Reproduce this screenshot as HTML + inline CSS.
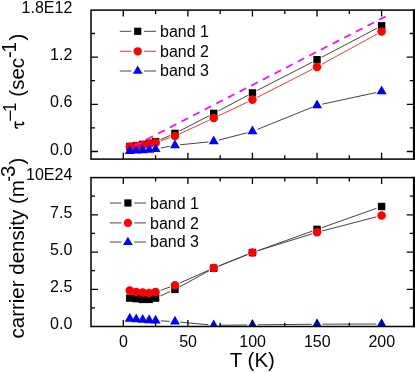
<!DOCTYPE html>
<html><head><meta charset="utf-8"><title>chart</title><style>html,body{margin:0;padding:0;background:#fff;}body{width:415px;height:373px;overflow:hidden;font-family:"Liberation Sans",sans-serif;}</style></head><body>
<svg width="415" height="373" viewBox="0 0 415 373" style="display:block" font-family="Liberation Sans, sans-serif" fill="#000">
<rect x="0" y="0" width="415" height="373" fill="#fff"/>
<defs><clipPath id="c1"><rect x="91" y="10.1" width="322.8" height="149"/></clipPath><clipPath id="c2"><rect x="91" y="177.6" width="322.8" height="148.9"/></clipPath></defs>
<g clip-path="url(#c1)">
<path d="M160.46 139.61L170.09 135.49M179.67 130.97L209.00 115.83M218.39 110.92L247.77 95.38M257.16 90.48L312.31 62.12M321.72 57.24L376.91 28.26" stroke="#444" stroke-width="1" fill="none"/>
<rect x="126.06" y="142.80" width="7.4" height="7.4" fill="#000"/>
<rect x="132.52" y="141.90" width="7.4" height="7.4" fill="#000"/>
<rect x="138.97" y="140.70" width="7.4" height="7.4" fill="#000"/>
<rect x="145.43" y="139.50" width="7.4" height="7.4" fill="#000"/>
<rect x="151.89" y="138.00" width="7.4" height="7.4" fill="#000"/>
<rect x="171.26" y="129.70" width="7.4" height="7.4" fill="#000"/>
<rect x="210.00" y="109.70" width="7.4" height="7.4" fill="#000"/>
<rect x="248.75" y="89.20" width="7.4" height="7.4" fill="#000"/>
<rect x="313.33" y="56.00" width="7.4" height="7.4" fill="#000"/>
<rect x="377.90" y="22.10" width="7.4" height="7.4" fill="#000"/>
<path d="M160.62 140.74L169.93 137.66M179.77 133.78L208.89 120.32M218.50 115.84L247.66 102.06M257.17 97.39L312.30 69.31M321.68 64.36L376.95 34.14" stroke="#f33" stroke-width="1" fill="none"/>
<circle cx="129.76" cy="146.80" r="4.25" fill="#f00"/>
<circle cx="136.22" cy="146.00" r="4.25" fill="#f00"/>
<circle cx="142.67" cy="145.00" r="4.25" fill="#f00"/>
<circle cx="149.13" cy="144.00" r="4.25" fill="#f00"/>
<circle cx="155.59" cy="142.40" r="4.25" fill="#f00"/>
<circle cx="174.96" cy="136.00" r="4.25" fill="#f00"/>
<circle cx="213.70" cy="118.10" r="4.25" fill="#f00"/>
<circle cx="252.45" cy="99.80" r="4.25" fill="#f00"/>
<circle cx="317.03" cy="66.90" r="4.25" fill="#f00"/>
<circle cx="381.60" cy="31.60" r="4.25" fill="#f00"/>
<path d="M160.79 148.01L169.75 146.29M180.23 144.77L208.43 141.93M218.84 140.08L247.32 132.72M257.36 129.41L312.11 107.29M322.21 104.18L376.42 92.52" stroke="#444" stroke-width="1" fill="none"/>
<path d="M129.76 145.13L134.76 153.93L124.76 153.93Z" fill="#00f"/>
<path d="M136.22 144.73L141.22 153.53L131.22 153.53Z" fill="#00f"/>
<path d="M142.67 144.33L147.67 153.13L137.67 153.13Z" fill="#00f"/>
<path d="M149.13 143.83L154.13 152.63L144.13 152.63Z" fill="#00f"/>
<path d="M155.59 143.13L160.59 151.93L150.59 151.93Z" fill="#00f"/>
<path d="M174.96 139.43L179.96 148.23L169.96 148.23Z" fill="#00f"/>
<path d="M213.70 135.53L218.70 144.33L208.70 144.33Z" fill="#00f"/>
<path d="M252.45 125.53L257.45 134.33L247.45 134.33Z" fill="#00f"/>
<path d="M317.03 99.43L322.03 108.23L312.03 108.23Z" fill="#00f"/>
<path d="M381.60 85.53L386.60 94.33L376.60 94.33Z" fill="#00f"/>
</g>
<path d="M129.80 148.16L386.00 16.24" stroke="#f0f" stroke-width="1.7" stroke-dasharray="7.3 5.78" stroke-dashoffset="7.3" fill="none"/>
<g clip-path="url(#c2)">
<path d="M160.42 295.93L170.13 291.57M179.61 286.86L209.06 270.74M218.62 266.22L247.53 254.58M257.44 250.81L312.04 231.19M322.02 227.63L376.60 208.27" stroke="#444" stroke-width="1" fill="none"/>
<rect x="126.06" y="294.40" width="7.4" height="7.4" fill="#000"/>
<rect x="132.52" y="295.00" width="7.4" height="7.4" fill="#000"/>
<rect x="138.97" y="295.70" width="7.4" height="7.4" fill="#000"/>
<rect x="145.43" y="295.70" width="7.4" height="7.4" fill="#000"/>
<rect x="151.89" y="294.40" width="7.4" height="7.4" fill="#000"/>
<rect x="171.26" y="285.70" width="7.4" height="7.4" fill="#000"/>
<rect x="210.00" y="264.50" width="7.4" height="7.4" fill="#000"/>
<rect x="248.75" y="248.90" width="7.4" height="7.4" fill="#000"/>
<rect x="313.33" y="225.70" width="7.4" height="7.4" fill="#000"/>
<rect x="377.90" y="202.80" width="7.4" height="7.4" fill="#000"/>
<path d="M160.58 290.32L169.97 286.98M179.80 283.05L208.86 270.15M218.62 266.02L247.53 254.38M257.51 250.82L311.96 233.88M322.15 230.97L376.47 216.83" stroke="#444" stroke-width="1" fill="none"/>
<circle cx="129.76" cy="290.60" r="4.25" fill="#f00"/>
<circle cx="136.22" cy="291.90" r="4.25" fill="#f00"/>
<circle cx="142.67" cy="292.50" r="4.25" fill="#f00"/>
<circle cx="149.13" cy="292.90" r="4.25" fill="#f00"/>
<circle cx="155.59" cy="292.10" r="4.25" fill="#f00"/>
<circle cx="174.96" cy="285.20" r="4.25" fill="#f00"/>
<circle cx="213.70" cy="268.00" r="4.25" fill="#f00"/>
<circle cx="252.45" cy="252.40" r="4.25" fill="#f00"/>
<circle cx="317.03" cy="232.30" r="4.25" fill="#f00"/>
<circle cx="381.60" cy="215.50" r="4.25" fill="#f00"/>
<path d="M160.88 320.87L169.67 321.33M180.24 322.10L208.43 324.80M219.00 325.25L247.15 324.95M257.75 324.84L311.73 324.26M322.32 324.18L376.30 324.02" stroke="#444" stroke-width="1" fill="none"/>
<path d="M129.76 312.83L134.76 321.63L124.76 321.63Z" fill="#00f"/>
<path d="M136.22 313.43L141.22 322.23L131.22 322.23Z" fill="#00f"/>
<path d="M142.67 313.93L147.67 322.73L137.67 322.73Z" fill="#00f"/>
<path d="M149.13 314.33L154.13 323.13L144.13 323.13Z" fill="#00f"/>
<path d="M155.59 314.73L160.59 323.53L150.59 323.53Z" fill="#00f"/>
<path d="M174.96 315.73L179.96 324.53L169.96 324.53Z" fill="#00f"/>
<path d="M213.70 319.43L218.70 328.23L208.70 328.23Z" fill="#00f"/>
<path d="M252.45 319.03L257.45 327.83L247.45 327.83Z" fill="#00f"/>
<path d="M317.03 318.33L322.03 327.13L312.03 327.13Z" fill="#00f"/>
<path d="M381.60 318.13L386.60 326.93L376.60 326.93Z" fill="#00f"/>
</g>
<rect x="91" y="10.1" width="322.8" height="149" fill="none" stroke="#000" stroke-width="1.5"/>
<rect x="91" y="177.6" width="322.8" height="148.9" fill="none" stroke="#000" stroke-width="1.5"/>
<rect x="412.9" y="9.35" width="2.1" height="150.5" fill="#000"/>
<rect x="412.9" y="176.85" width="2.1" height="150.4" fill="#000"/>
<path d="M123.30 10.10v6.40M123.30 159.10v-6.40M155.59 10.10v3.80M155.59 159.10v-3.80M187.88 10.10v6.40M187.88 159.10v-6.40M220.16 10.10v3.80M220.16 159.10v-3.80M252.45 10.10v6.40M252.45 159.10v-6.40M284.74 10.10v3.80M284.74 159.10v-3.80M317.03 10.10v6.40M317.03 159.10v-6.40M349.31 10.10v3.80M349.31 159.10v-3.80M381.60 10.10v6.40M381.60 159.10v-6.40M123.30 177.60v6.40M123.30 326.50v-6.40M155.59 177.60v3.80M155.59 326.50v-3.80M187.88 177.60v6.40M187.88 326.50v-6.40M220.16 177.60v3.80M220.16 326.50v-3.80M252.45 177.60v6.40M252.45 326.50v-6.40M284.74 177.60v3.80M284.74 326.50v-3.80M317.03 177.60v6.40M317.03 326.50v-6.40M349.31 177.60v3.80M349.31 326.50v-3.80M381.60 177.60v6.40M381.60 326.50v-6.40M91.00 151.50h7.00M413.80 151.50h-7.00M91.00 104.30h7.00M413.80 104.30h-7.00M91.00 57.10h7.00M413.80 57.10h-7.00M91.00 127.90h4.00M413.80 127.90h-4.00M91.00 80.70h4.00M413.80 80.70h-4.00M91.00 33.50h4.00M413.80 33.50h-4.00M91.00 289.30h7.00M413.80 289.30h-7.00M91.00 252.05h7.00M413.80 252.05h-7.00M91.00 214.80h7.00M413.80 214.80h-7.00M91.00 307.90h4.00M413.80 307.90h-4.00M91.00 270.70h4.00M413.80 270.70h-4.00M91.00 233.40h4.00M413.80 233.40h-4.00M91.00 196.20h4.00M413.80 196.20h-4.00" stroke="#000" stroke-width="1.3" fill="none"/>
<g opacity="0.996">
<text transform="translate(72.30 13.20)" font-size="16" text-anchor="end">1.8E12</text>
<text transform="translate(72.30 60.20)" font-size="16" text-anchor="end">1.2</text>
<text transform="translate(72.30 107.40)" font-size="16" text-anchor="end">0.6</text>
<text transform="translate(72.30 154.60)" font-size="16" text-anchor="end">0.0</text>
<text transform="translate(72.30 180.10)" font-size="16" text-anchor="end">10E24</text>
<text transform="translate(72.30 218.10)" font-size="16" text-anchor="end">7.5</text>
<text transform="translate(72.30 255.20)" font-size="16" text-anchor="end">5.0</text>
<text transform="translate(72.30 292.30)" font-size="16" text-anchor="end">2.5</text>
<text transform="translate(72.30 329.40)" font-size="16" text-anchor="end">0.0</text>
<text transform="translate(123.50 347.20)" font-size="16" text-anchor="middle">0</text>
<text transform="translate(188.07 347.20)" font-size="16" text-anchor="middle">50</text>
<text transform="translate(252.65 347.20)" font-size="16" text-anchor="middle">100</text>
<text transform="translate(317.23 347.20)" font-size="16" text-anchor="middle">150</text>
<text transform="translate(381.80 347.20)" font-size="16" text-anchor="middle">200</text>
<text transform="translate(252.30 367.30)" font-size="20.5" text-anchor="middle">T (K)</text>
<text transform="translate(23.50 338.50) rotate(-90)" font-size="20.5">carrier density (m</text>
<text transform="translate(15.20 181.40) rotate(-90) scale(0.8 1)" font-size="20.5">-</text>
<text transform="translate(15.20 176.90) rotate(-90)" font-size="20.5">3</text>
<text transform="translate(23.50 164.60) rotate(-90)" font-size="20.5">)</text>
<path transform="translate(24.30 128.8) rotate(-90)" d="M0.8,-6.3C0.6,-8.0 1.0,-8.9 2.4,-8.9L7.5,-8.9M4.2,-8.9L4.2,-2.8C4.2,-0.3 5.6,0.2 7.0,-1.9" fill="none" stroke="#000" stroke-width="1.5"/>
<text transform="translate(16.40 121.80) rotate(-90) scale(1.2 1)" font-size="17.5">−</text>
<text transform="translate(15.80 111.70) rotate(-90) scale(0.92 1)" font-size="17.5">1</text>
<text transform="translate(24.30 96.70) rotate(-90)" font-size="20.5">(sec</text>
<text transform="translate(16.00 58.00) rotate(-90)" font-size="20.5">-</text>
<text transform="translate(16.00 52.60) rotate(-90) scale(0.92 1)" font-size="20.5">1</text>
<text transform="translate(24.30 40.40) rotate(-90)" font-size="20.5">)</text>
<path d="M119.80 31.30H131.30M144.10 31.30H156.00" stroke="#444" stroke-width="1" fill="none"/>
<rect x="134.10" y="27.70" width="7.2" height="7.2" fill="#000"/>
<text transform="translate(160.00 37.00)" font-size="16" text-anchor="start">band 1</text>
<path d="M119.80 51.30H131.30M144.10 51.30H156.00" stroke="#f33" stroke-width="1" fill="none"/>
<circle cx="137.70" cy="51.30" r="4.15" fill="#f00"/>
<text transform="translate(160.00 57.00)" font-size="16" text-anchor="start">band 2</text>
<path d="M119.80 71.00H131.30M144.10 71.00H156.00" stroke="#444" stroke-width="1" fill="none"/>
<path d="M137.70 65.53L142.60 73.73L132.80 73.73Z" fill="#00f"/>
<text transform="translate(160.00 76.30)" font-size="16" text-anchor="start">band 3</text>
<path d="M109.80 203.00H121.50M134.30 203.00H146.00" stroke="#444" stroke-width="1" fill="none"/>
<rect x="124.30" y="199.40" width="7.2" height="7.2" fill="#000"/>
<text transform="translate(150.00 208.90)" font-size="16" text-anchor="start">band 1</text>
<path d="M109.80 222.90H121.50M134.30 222.90H146.00" stroke="#444" stroke-width="1" fill="none"/>
<circle cx="127.90" cy="222.90" r="4.15" fill="#f00"/>
<text transform="translate(150.00 228.80)" font-size="16" text-anchor="start">band 2</text>
<path d="M109.80 242.00H121.50M134.30 242.00H146.00" stroke="#444" stroke-width="1" fill="none"/>
<path d="M127.90 236.73L132.80 244.93L123.00 244.93Z" fill="#00f"/>
<text transform="translate(150.00 247.40)" font-size="16" text-anchor="start">band 3</text>
</g>
</svg>
</body></html>
